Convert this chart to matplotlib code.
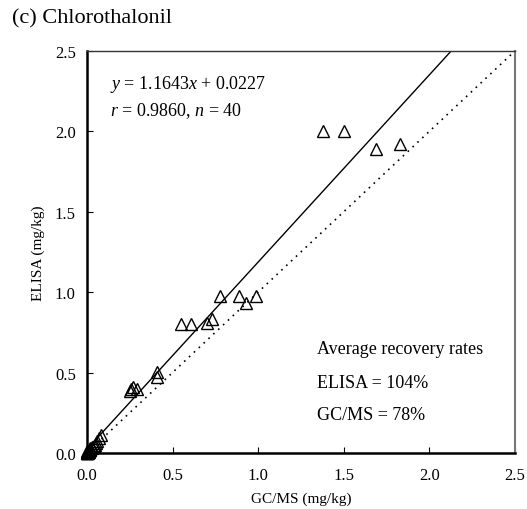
import matplotlib
matplotlib.use("Agg")
import matplotlib.pyplot as plt
import numpy as np

plt.rcParams['font.family'] = ['Liberation Serif', 'DejaVu Serif']
plt.rcParams['mathtext.fontset'] = 'custom'
plt.rcParams['mathtext.rm'] = 'Liberation Serif'
plt.rcParams['mathtext.it'] = 'Liberation Serif:italic'

gcms = [1.38, 1.50, 1.69, 1.83,
        0.78, 0.89, 0.93, 0.985,
        0.55, 0.61, 0.70, 0.73,
        0.41, 0.41,
        0.25, 0.26, 0.27, 0.29,
        0.08, 0.07, 0.05, 0.04, 0.03, 0.02, 0.01, 0.0,
        0.01, 0.0, 0.005, 0.02, 0.03, 0.015, 0.0, 0.005, 0.01, 0.0, 0.02, 0.06, 0.045, 0.0]
elisa = [2.00, 2.00, 1.89, 1.92,
         0.975, 0.975, 0.935, 0.975,
         0.80, 0.80, 0.81, 0.83,
         0.505, 0.47,
         0.385, 0.40, 0.41, 0.40,
         0.11, 0.09, 0.06, 0.045, 0.03, 0.02, 0.015, 0.0,
         0.01, 0.005, 0.005, 0.025, 0.035, 0.02, 0.01, 0.0, 0.005, 0.0, 0.03, 0.075, 0.05, 0.0]

slope, intercept = 1.1643, 0.0227
ticks = [0.0, 0.5, 1.0, 1.5, 2.0, 2.5]

fig = plt.figure(figsize=(5.27, 5.10), dpi=100)
ax = fig.add_axes([0.165, 0.110, 0.812, 0.788])

ax.plot(gcms, elisa, linestyle='none', marker='^', markersize=9,
        markerfacecolor='none', markeredgecolor='black', markeredgewidth=1.0, clip_on=False, zorder=3)

xx = np.array([0.0, 2.5])
ax.plot(xx, slope * xx + intercept, color='black', lw=1.0)
ax.plot(xx, xx, color='black', lw=1.2, linestyle=(0, (1, 3)))

ax.set_xlim(0, 2.5)
ax.set_ylim(0, 2.5)
ax.set_xticks(ticks)
ax.set_yticks(ticks)
ax.set_xticklabels([f"{t:.1f}" for t in ticks])
ax.set_yticklabels([f"{t:.1f}" for t in ticks])
ax.tick_params(direction='in', labelsize=12, length=4, width=0.8, pad=8)
ax.tick_params(axis='x', pad=10)

for s in ['left', 'bottom']:
    ax.spines[s].set_linewidth(1.8)
    ax.spines[s].set_color('black')
ax.spines['top'].set_linewidth(1.0)
ax.spines['top'].set_color('#333333')
ax.spines['right'].set_linewidth(1.5)
ax.spines['right'].set_color('#777777')

ax.set_xlabel('GC/MS (mg/kg)', fontsize=11, labelpad=6)
ax.set_ylabel('ELISA (mg/kg)', fontsize=11, labelpad=7)

ax.text(0.134, 2.295, r'$y$ = 1.1643$x$ + 0.0227', fontsize=13, va='center', ha='left')
ax.text(0.134, 2.13, r'$r$ = 0.9860, $n$ = 40', fontsize=13, va='center', ha='left')
ax.text(1.346, 0.647, 'Average recovery rates', fontsize=13, va='center', ha='left')
ax.text(1.346, 0.44, 'ELISA = 104%', fontsize=13, va='center', ha='left')
ax.text(1.346, 0.236, 'GC/MS = 78%', fontsize=13, va='center', ha='left')

fig.text(12 / 527, 1 - 19 / 510, '(c) Chlorothalonil', fontsize=16, va='center', ha='left')

fig.savefig('out.png', dpi=100)
